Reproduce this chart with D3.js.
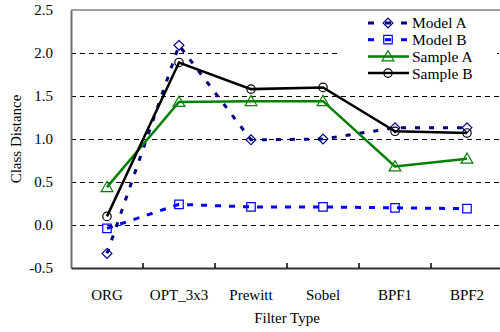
<!DOCTYPE html>
<html>
<head>
<meta charset="UTF-8">
<title>Class Distance</title>
<script src="https://d3js.org/d3.v7.min.js"></script>
<style>
  body { margin: 0; background: #fff; }
  text { font-family: "Liberation Serif", "Times New Roman", serif; }
</style>
</head>
<body>
<div id="chart"></div>
<script>
// categories and series
var filters = ["ORG", "OPT_3x3", "Prewitt", "Sobel", "BPF1", "BPF2"];
var modelA = [-0.33, 2.09, 0.99, 1.00, 1.13, 1.13];
var modelB = [-0.04, 0.24, 0.21, 0.21, 0.20, 0.19];
var sampleA = [0.44, 1.43, 1.44, 1.44, 0.68, 0.77];
var sampleB = [0.10, 1.89, 1.58, 1.60, 1.09, 1.07];
var yTicks = [-0.5, 0.0, 0.5, 1.0, 1.5, 2.0, 2.5];

var W = 500, H = 332;
var margin = { top: 10, right: -3, bottom: 64, left: 71 };

var svg = d3.select("#chart").append("svg")
  .attr("width", W).attr("height", H);

var x = d3.scaleBand().domain(filters).range([margin.left, W - margin.right]);
var y = d3.scaleLinear().domain([-0.5, 2.5]).range([H - margin.bottom, margin.top]);

// dashed gridlines (half-pixel offset keeps them crisp)
svg.append("g").selectAll("line")
  .data(yTicks.filter(function (d) { return d > -0.5 && d < 2.5; }))
  .join("line")
  .attr("x1", margin.left).attr("x2", W)
  .attr("y1", function (d) { return Math.round(y(d)) + 0.5; })
  .attr("y2", function (d) { return Math.round(y(d)) + 0.5; })
  .attr("stroke", "#000").attr("stroke-width", 1).attr("stroke-dasharray", "5,4");

// frame top
svg.append("line")
  .attr("x1", margin.left).attr("x2", W)
  .attr("y1", y(2.5)).attr("y2", y(2.5))
  .attr("stroke", "#808080").attr("stroke-width", 1.5);

// y axis
var yAxis = svg.append("g")
  .attr("transform", "translate(" + margin.left + ",0)")
  .call(d3.axisLeft(y).tickValues(yTicks)
    .tickFormat(function (d) { return d.toFixed(1); })
    .tickSize(0).tickPadding(18));
yAxis.select(".domain").attr("stroke", "#707070").attr("stroke-width", 2);
yAxis.selectAll("text").attr("font-size", 15).attr("fill", "#000")
  .attr("font-family", "Liberation Serif");

// x axis
var xAxis = svg.append("g")
  .attr("transform", "translate(0," + y(-0.5) + ")")
  .call(d3.axisBottom(x).tickSize(0).tickPadding(21));
xAxis.select(".domain").attr("stroke", "#303030").attr("stroke-width", 2);
xAxis.selectAll("text").attr("font-size", 15).attr("fill", "#000")
  .attr("font-family", "Liberation Serif");
// category boundary ticks pointing up
xAxis.append("g").selectAll("line")
  .data(filters.slice(1))
  .join("line")
  .attr("x1", function (d) { return x(d); }).attr("x2", function (d) { return x(d); })
  .attr("y1", 0).attr("y2", -5)
  .attr("stroke", "#000").attr("stroke-width", 1.5);

// axis titles
svg.append("text")
  .attr("x", (margin.left + W - margin.right) / 2).attr("y", 323)
  .attr("text-anchor", "middle").attr("font-size", 15)
  .text("Filter Type");
svg.append("text")
  .attr("transform", "translate(21," + ((y(2.5) + y(-0.5)) / 2) + ") rotate(-90)")
  .attr("text-anchor", "middle").attr("font-size", 15)
  .text("Class Distance");

// series definitions
var series = [
  { name: "Model A", values: modelA, color: "#000080", width: 3, dash: "5,9", marker: "diamond" },
  { name: "Model B", values: modelB, color: "#0000FF", width: 3, dash: "6,8", marker: "square" },
  { name: "Sample A", values: sampleA, color: "#008000", width: 2.5, dash: null, marker: "triangle" },
  { name: "Sample B", values: sampleB, color: "#000000", width: 2.5, dash: null, marker: "circle" }
];

var symbols = {
  diamond: d3.symbol().type(d3.symbolSquare).size(48),
  square: d3.symbol().type(d3.symbolSquare).size(72),
  triangle: d3.symbol().type(d3.symbolTriangle).size(60),
  circle: d3.symbol().type(d3.symbolCircle).size(56)
};

function drawMarker(g, s, cx, cy) {
  var p = g.append("path")
    .attr("d", symbols[s.marker]())
    .attr("fill", "none")
    .attr("stroke", s.color)
    .attr("stroke-width", 1.2);
  if (s.marker === "diamond") p.attr("transform", "translate(" + cx + "," + cy + ") rotate(45)");
  else if (s.marker === "triangle") p.attr("transform", "translate(" + cx + "," + (cy + 1) + ")");
  else p.attr("transform", "translate(" + cx + "," + cy + ")");
}

var line = d3.line()
  .x(function (d, i) { return x(filters[i]) + x.bandwidth() / 2; })
  .y(function (d) { return y(d); });

series.forEach(function (s) {
  var g = svg.append("g");
  g.append("path")
    .datum(s.values)
    .attr("d", line)
    .attr("fill", "none")
    .attr("stroke", s.color)
    .attr("stroke-width", s.width)
    .attr("stroke-dasharray", s.dash);
  s.values.forEach(function (v, i) {
    drawMarker(g, s, x(filters[i]) + x.bandwidth() / 2, y(v));
  });
});

// legend
var legend = svg.append("g");
legend.append("rect")
  .attr("x", 340).attr("y", 13).attr("width", 157).attr("height", 70)
  .attr("fill", "#fff");
series.forEach(function (s, i) {
  var ly = 23 + i * 16.7;
  var g = legend.append("g");
  if (s.dash) {
    [[368, 374], [385, 391], [401, 407]].forEach(function (seg) {
      g.append("line").attr("x1", seg[0]).attr("x2", seg[1]).attr("y1", ly).attr("y2", ly)
        .attr("stroke", s.color).attr("stroke-width", s.width);
    });
  } else {
    g.append("line").attr("x1", 368).attr("x2", 409).attr("y1", ly).attr("y2", ly)
      .attr("stroke", s.color).attr("stroke-width", s.width);
  }
  drawMarker(g, s, 388, ly);
  g.append("text")
    .attr("x", 412).attr("y", ly).attr("dy", "0.35em")
    .attr("font-size", 15.5)
    .text(s.name);
});
</script>
</body>
</html>
